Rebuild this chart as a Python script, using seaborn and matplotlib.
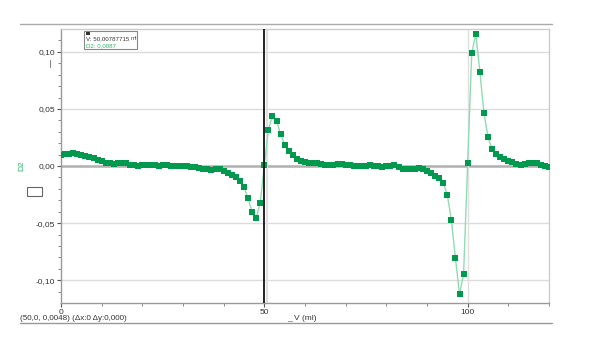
import numpy as np
import pandas as pd
import matplotlib
matplotlib.use("Agg")
import matplotlib.pyplot as plt
import seaborn as sns
from matplotlib.patches import Rectangle
from matplotlib.lines import Line2D

# ---- data ----
volume_ml = list(range(0, 121))
d2 = [
    0.0096, 0.0102, 0.0108, 0.0110, 0.0105, 0.0098, 0.0088, 0.0078, 0.0066, 0.0052,
    0.0040, 0.0028, 0.0022, 0.0020, 0.0026, 0.0030, 0.0022, 0.0012, 0.0006, 0.0004,
    0.0008, 0.0010, 0.0012, 0.0008, 0.0004, 0.0008, 0.0006, 0.0002, 0.0000, 0.0004,
    0.0002, -0.0004, -0.0008, -0.0010, -0.0015, -0.0022, -0.0030, -0.0032, -0.0028, -0.0026,
    -0.0045, -0.0062, -0.0082, -0.0094, -0.0132, -0.0187, -0.0284, -0.0404, -0.0453, -0.0322,
    0.0005, 0.0319, 0.0441, 0.0395, 0.0280, 0.0184, 0.0132, 0.0099, 0.0064, 0.0042,
    0.0032, 0.0030, 0.0030, 0.0029, 0.0018, 0.0008, 0.0006, 0.0012, 0.0018, 0.0015,
    0.0010, 0.0006, 0.0004, 0.0002, 0.0000, 0.0004, 0.0009, 0.0004, -0.0004, -0.0006,
    -0.0004, 0.0004, 0.0009, -0.0008, -0.0024, -0.0026, -0.0024, -0.0026, -0.0020, -0.0030,
    -0.0045, -0.0064, -0.0090, -0.0108, -0.0148, -0.0254, -0.0474, -0.0810, -0.1125, -0.0942,
    0.0023, 0.0988, 0.1158, 0.0825, 0.0468, 0.0251, 0.0149, 0.0102, 0.0076, 0.0061,
    0.0047, 0.0032, 0.0015, 0.0012, 0.0015, 0.0022, 0.0029, 0.0022, 0.0010, 0.0002,
    -0.0006,
]
y_ticks = [-0.10, -0.05, 0.00, 0.05, 0.10]
y_tick_labels = ["-0,10", "-0,05", "0,00", "0,05", "0,10"]
x_ticks = [0, 50, 100]
x_tick_labels = ["0", "50", "100"]
cursor_x = 50
x_label = "_ V (ml)"
y_label = "D2"
status_text = "(50,0, 0,0048) (Δx:0 Δy:0,000)"
tip_v = "V: 50,00787715 "
tip_unit = "ml"
tip_d2 = "D2: 0,0087"

df = pd.DataFrame({"V": volume_ml, "D2": d2})

sns.set_style("white")
plt.rcParams["font.family"] = ["Liberation Sans", "DejaVu Sans"]

W, H = 596, 357
fig = plt.figure(figsize=(W / 100, H / 100), dpi=100)
fig.patch.set_facecolor("white")

def fx(px):
    return px / W

def fy(py):
    return 1 - py / H

ax = fig.add_axes([fx(61), fy(303), fx(549) - fx(61), fy(29) - fy(303)])

dark_green = "#00994d"
light_green = "#8fdcb2"

# grid
for yv in [-0.10, -0.05, 0.05, 0.10]:
    ax.axhline(yv, color="#dcdcdc", lw=1.0, zorder=0)
ax.axhline(0, color="#b0b0b0", lw=1.8, zorder=0)
ax.axvline(100, color="#e0e0e0", lw=1.0, zorder=0)
ax.axvline(50.7, color="#e0e0e0", lw=1.5, zorder=0)

sns.lineplot(data=df, x="V", y="D2", ax=ax, color=light_green, lw=1.0,
             zorder=2, legend=False)
sns.scatterplot(data=df, x="V", y="D2", ax=ax, marker="s", color=dark_green,
                s=20, linewidth=0, zorder=3, legend=False)

ax.axvline(cursor_x, color="#111111", lw=1.3, zorder=4)

ax.set_xlim(0, 120)
ax.set_ylim(-0.12, 0.12)
ax.set_xticks(x_ticks)
ax.set_xticklabels(x_tick_labels)
ax.set_yticks(y_ticks)
ax.set_yticklabels(y_tick_labels)
ax.set_xticks(np.arange(0, 121, 10), minor=True)
ax.set_yticks(np.arange(-0.11, 0.115, 0.01), minor=True)
ax.tick_params(axis="both", which="major", direction="out", length=3, width=0.8,
               color="#555555", labelsize=6, labelcolor="#333333", pad=1)
ax.tick_params(axis="both", which="minor", direction="out", length=2, width=0.6,
               color="#777777")
ax.tick_params(axis="y", which="both", left=True)
ax.tick_params(axis="x", which="both", bottom=True)
ax.set_xlabel("")
ax.set_ylabel("")

for side in ["left", "bottom"]:
    ax.spines[side].set_color("#999999")
    ax.spines[side].set_linewidth(1.0)
for side in ["right", "top"]:
    ax.spines[side].set_color("#cccccc")
    ax.spines[side].set_linewidth(1.0)

# outer frame lines
fig.add_artist(Line2D([fx(20), fx(552)], [fy(24), fy(24)], color="#aaaaaa", lw=1.0))
fig.add_artist(Line2D([fx(20), fx(552)], [fy(322.5), fy(322.5)], color="#999999", lw=1.0))
fig.add_artist(Line2D([fx(50), fx(50)], [fy(60), fy(67)], color="#888888", lw=0.8))

# y label and legend box
fig.text(fx(22), fy(166), y_label, color="#2fb36a", fontsize=6, rotation=90,
         ha="center", va="center")
fig.add_artist(Rectangle((fx(27), fy(196)), fx(42) - fx(27), fy(187) - fy(196),
                         fill=False, edgecolor="#666666", lw=0.8,
                         transform=fig.transFigure))

# x label and status text
fig.text(fx(287), fy(318.5), x_label, color="#333333", fontsize=6,
         ha="left", va="center")
fig.text(fx(20), fy(319), status_text, color="#333333", fontsize=5.8,
         ha="left", va="center")

# tooltip box
fig.add_artist(Rectangle((fx(84), fy(49)), fx(137) - fx(84), fy(31) - fy(49),
                         fill=True, facecolor="white", edgecolor="#888888", lw=0.8,
                         transform=fig.transFigure, zorder=10))
fig.add_artist(Rectangle((fx(86), fy(34.5)), fx(90) - fx(86), fy(32) - fy(34.5),
                         fill=True, facecolor="#333333", edgecolor="none",
                         transform=fig.transFigure, zorder=11))
t = fig.text(fx(86), fy(40.5), tip_v, color="#333333", fontsize=4.4,
             ha="left", va="baseline", zorder=11)
fig.canvas.draw()
bb = t.get_window_extent()
fig.text(bb.x1 / W, fy(40.5), tip_unit, color="#a0203a", fontsize=4.4,
         ha="left", va="baseline", zorder=11)
fig.text(fx(86), fy(47), tip_d2, color="#2fb36a", fontsize=4.4,
         ha="left", va="baseline", zorder=11)

fig.savefig("out.png", dpi=100)
